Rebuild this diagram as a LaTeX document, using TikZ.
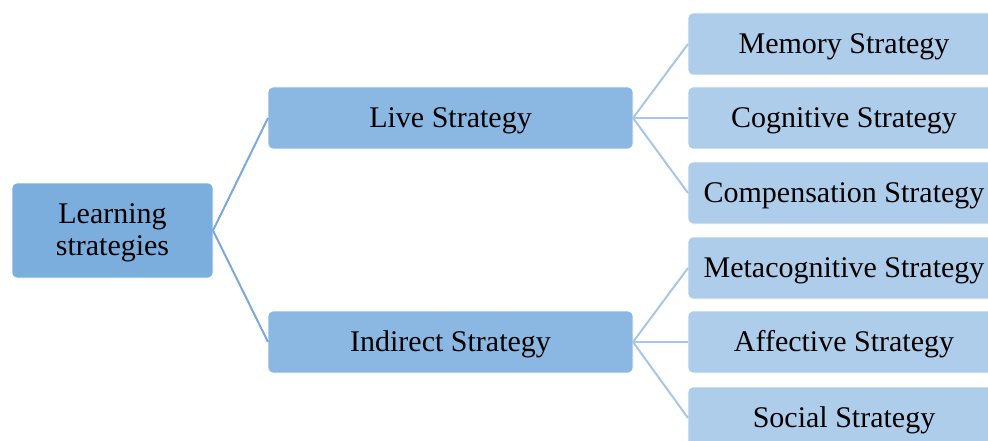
\documentclass[tikz,border=0pt]{standalone}
\usepackage{fontspec}
\setmainfont{Liberation Serif}
\definecolor{rootc}{HTML}{7BADDD}
\definecolor{midc}{HTML}{8BB8E2}
\definecolor{leafc}{HTML}{AECDEA}
\definecolor{rootline}{HTML}{7BA9DA}
\definecolor{leafline}{HTML}{A8C6E6}
\newcommand{\lowtext}[1]{\raisebox{-2.5pt}[\height][\depth]{#1}}
\begin{document}
\begin{tikzpicture}[x=1pt,y=-1pt,
  every node/.style={inner sep=0pt, outer sep=0pt, text=black, font=\fontsize{30}{32}\selectfont},
  box/.style={rounded corners=5pt, anchor=north west, align=center, draw=white, line width=0.6pt},
  rootbox/.style={box, fill=rootc, minimum width=201pt, minimum height=95pt},
  midbox/.style={box, fill=midc, minimum width=365pt, minimum height=62pt},
  leafbox/.style={box, fill=leafc, minimum width=312pt, minimum height=62pt},
  rootconn/.style={draw=rootline, line width=2pt},
  leafconn/.style={draw=leafline, line width=2pt}]
\useasboundingbox (0,0) rectangle (988,441);
\clip (0,0) rectangle (988,441);
\node[rootbox] (root) at (12,183) {\lowtext{Learning}\\\lowtext{strategies}};
\node[midbox] (live) at (268,87) {\lowtext{Live Strategy}};
\node[midbox] (ind) at (268,311) {\lowtext{Indirect Strategy}};
\node[leafbox] (mem) at (688,13) {\lowtext{Memory Strategy}};
\node[leafbox] (cog) at (688,87) {\lowtext{Cognitive Strategy}};
\node[leafbox] (comp) at (688,162) {\lowtext{Compensation Strategy}};
\node[leafbox] (meta) at (688,237) {\lowtext{Metacognitive Strategy}};
\node[leafbox] (aff) at (688,311) {\lowtext{Affective Strategy}};
\node[leafbox] (soc) at (688,387) {\lowtext{Social Strategy}};
\draw[rootconn] (live.west) -- (root.east) -- (ind.west);
\draw[leafconn] (live.east) -- (mem.west);
\draw[leafconn] (live.east) -- (cog.west);
\draw[leafconn] (live.east) -- (comp.west);
\draw[leafconn] (ind.east) -- (meta.west);
\draw[leafconn] (ind.east) -- (aff.west);
\draw[leafconn] (ind.east) -- (soc.west);
\end{tikzpicture}
\end{document}
